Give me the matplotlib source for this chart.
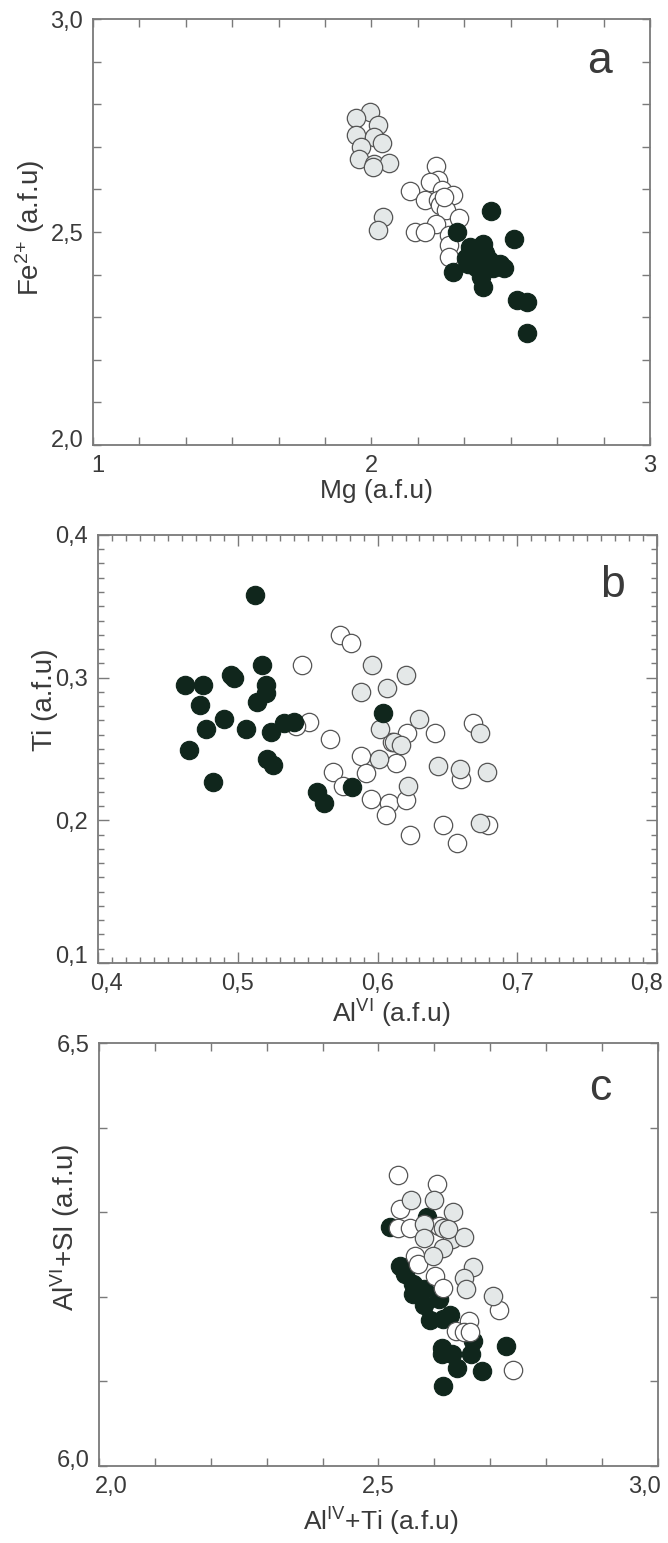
import numpy as np
import matplotlib
matplotlib.use("Agg")
import matplotlib.pyplot as plt
from matplotlib.ticker import MultipleLocator, FixedLocator
from matplotlib.transforms import ScaledTranslation

plt.rcParams['font.family'] = ['Liberation Sans', 'DejaVu Sans']
plt.rcParams['mathtext.default'] = 'regular'

# panel a : Mg vs Fe2+
a_gray_x = [1.995, 1.946, 2.022, 1.946, 2.010, 2.037, 1.964, 1.956, 2.010, 2.063, 2.007, 2.041, 2.022]
a_gray_y = [2.782, 2.767, 2.751, 2.728, 2.724, 2.708, 2.700, 2.671, 2.661, 2.663, 2.653, 2.536, 2.505]
a_white_x = [2.232, 2.240, 2.209, 2.140, 2.255, 2.293, 2.194, 2.240, 2.247, 2.267, 2.232, 2.316,
             2.155, 2.194, 2.278, 2.278, 2.278, 2.262]
a_white_y = [2.655, 2.622, 2.618, 2.597, 2.599, 2.588, 2.575, 2.575, 2.563, 2.552, 2.520, 2.532,
             2.501, 2.501, 2.493, 2.469, 2.442, 2.583]
a_black_x = [2.431, 2.308, 2.512, 2.354, 2.400, 2.408, 2.370, 2.347, 2.392, 2.423, 2.461, 2.477,
             2.293, 2.377, 2.438, 2.400, 2.523, 2.558, 2.558, 2.339, 2.392]
a_black_y = [2.550, 2.501, 2.483, 2.466, 2.473, 2.450, 2.442, 2.426, 2.426, 2.434, 2.426, 2.415,
             2.407, 2.419, 2.415, 2.372, 2.340, 2.336, 2.262, 2.438, 2.395]

# panel b : AlVI vs Ti
b_black_x = [0.512, 0.517, 0.495, 0.497, 0.462, 0.475, 0.520, 0.520, 0.514, 0.473, 0.604, 0.490,
             0.533, 0.540, 0.477, 0.506, 0.524, 0.465, 0.521, 0.525, 0.482, 0.582, 0.557, 0.562]
b_black_y = [0.358, 0.309, 0.302, 0.300, 0.295, 0.295, 0.295, 0.289, 0.283, 0.281, 0.275, 0.271,
             0.268, 0.269, 0.264, 0.264, 0.262, 0.249, 0.243, 0.239, 0.227, 0.223, 0.220, 0.212]
b_white_x = [0.573, 0.581, 0.546, 0.551, 0.542, 0.566, 0.621, 0.641, 0.668, 0.588, 0.613, 0.568,
             0.592, 0.575, 0.595, 0.608, 0.620, 0.606, 0.660, 0.647, 0.679, 0.623, 0.657, 0.610]
b_white_y = [0.330, 0.324, 0.309, 0.269, 0.266, 0.257, 0.261, 0.261, 0.268, 0.245, 0.240, 0.234,
             0.233, 0.224, 0.215, 0.212, 0.214, 0.204, 0.229, 0.197, 0.197, 0.190, 0.184, 0.255]
b_gray_x = [0.596, 0.620, 0.607, 0.588, 0.630, 0.602, 0.612, 0.617, 0.601, 0.643, 0.659, 0.673,
            0.678, 0.622, 0.673]
b_gray_y = [0.309, 0.302, 0.293, 0.290, 0.271, 0.264, 0.255, 0.253, 0.243, 0.238, 0.236, 0.261,
            0.234, 0.224, 0.198]

# panel c : AlIV+Ti vs AlVI+Si
c_black_x = [2.520, 2.587, 2.539, 2.547, 2.562, 2.582, 2.562, 2.582, 2.609, 2.628, 2.593, 2.616,
             2.613, 2.613, 2.632, 2.640, 2.666, 2.686, 2.728, 2.616, 2.670]
c_black_y = [6.283, 6.294, 6.237, 6.227, 6.215, 6.209, 6.203, 6.191, 6.197, 6.179, 6.173, 6.174,
             6.140, 6.132, 6.132, 6.116, 6.132, 6.112, 6.142, 6.095, 6.148]
c_white_x = [2.535, 2.605, 2.539, 2.535, 2.566, 2.570, 2.602, 2.616, 2.716, 2.662, 2.639, 2.653,
             2.664, 2.740, 2.609, 2.556]
c_white_y = [6.344, 6.334, 6.304, 6.282, 6.248, 6.239, 6.225, 6.211, 6.185, 6.172, 6.160, 6.158,
             6.158, 6.114, 6.284, 6.282]
c_gray_x = [2.559, 2.599, 2.634, 2.582, 2.616, 2.582, 2.632, 2.653, 2.616, 2.597, 2.670, 2.653,
            2.656, 2.705, 2.625]
c_gray_y = [6.315, 6.315, 6.300, 6.286, 6.282, 6.270, 6.268, 6.271, 6.258, 6.248, 6.235, 6.222,
            6.209, 6.201, 6.280]

txt = '#3a3a3a'
spine = '#7a7a7a'
black_c = '#10261c'
gray_c = '#e4e8e8'
ms = 175


def pts(ax, x, y, kind):
    if kind == 'black':
        ax.scatter(x, y, s=ms, c=black_c, edgecolors=black_c, linewidths=0.8, zorder=3)
    elif kind == 'white':
        ax.scatter(x, y, s=ms, c='white', edgecolors='#555555', linewidths=0.9, zorder=3)
    else:
        ax.scatter(x, y, s=ms, c=gray_c, edgecolors='#555555', linewidths=0.9, zorder=3)


def style(ax):
    for s in ax.spines.values():
        s.set_color(spine)
        s.set_linewidth(1.3)
    ax.tick_params(which='both', direction='in', top=True, right=True, color=spine,
                   labelcolor=txt, labelsize=17, width=1.0, pad=7)
    ax.tick_params(which='major', length=7)
    ax.tick_params(which='minor', length=5)


def nudge(lab, dx, dy):
    # move a corner tick label a few pixels (as in the original figure)
    lab.set_transform(lab.get_transform() + ScaledTranslation(dx / 100.0, dy / 100.0, fig.dpi_scale_trans))


def labels(ax, xl, yl, xpos, ypos):
    ax.set_xlabel(xl, fontsize=19, color=txt)
    ax.set_ylabel(yl, fontsize=20, color=txt)
    ax.xaxis.label.set_va('center')
    ax.yaxis.label.set_va('center')
    ax.xaxis.set_label_coords(xpos[0], xpos[1])
    ax.yaxis.set_label_coords(ypos[0], ypos[1])


fig = plt.figure(figsize=(6.68, 15.43), dpi=100)

# ---- a
ax1 = fig.add_axes([0.139, 0.7116, 0.834, 0.276])
pts(ax1, a_gray_x, a_gray_y, 'gray')
pts(ax1, a_white_x, a_white_y, 'white')
pts(ax1, a_black_x, a_black_y, 'black')
ax1.set_xlim(1, 3)
ax1.set_ylim(2.0, 3.0)
ax1.set_xticks([1, 2, 3])
ax1.set_xticklabels(['1', '2', '3'])
ax1.xaxis.set_minor_locator(FixedLocator(list(np.arange(1, 3.001, 1 / 6.0))))
ax1.set_yticks([2.0, 2.5, 3.0])
ax1.set_yticklabels(['2,0', '2,5', '3,0'])
ax1.yaxis.set_minor_locator(MultipleLocator(0.1))
style(ax1)
ax1.tick_params(which='both', length=6)
labels(ax1, 'Mg (a.f.u)', 'Fe$^{2{+}}$ (a.f.u)', (0.51, -0.108), (-0.113, 0.51))
ax1.text(0.91, 0.90, 'a', transform=ax1.transAxes, fontsize=32, color=txt,
         ha='center', va='center')
nudge(ax1.get_xticklabels()[0], 5, 0)
nudge(ax1.get_yticklabels()[0], 0, 7)

# ---- b
ax2 = fig.add_axes([0.1467, 0.3759, 0.837, 0.2774])
pts(ax2, b_white_x, b_white_y, 'white')
pts(ax2, b_gray_x, b_gray_y, 'gray')
pts(ax2, b_black_x, b_black_y, 'black')
ax2.set_xlim(0.4, 0.8)
ax2.set_ylim(0.1, 0.4)
ax2.set_xticks([0.4, 0.5, 0.6, 0.7, 0.8])
ax2.set_xticklabels(['0,4', '0,5', '0,6', '0,7', '0,8'])
ax2.xaxis.set_minor_locator(MultipleLocator(0.01))
ax2.set_yticks([0.1, 0.2, 0.3, 0.4])
ax2.set_yticklabels(['0,1', '0,2', '0,3', '0,4'])
ax2.yaxis.set_minor_locator(MultipleLocator(0.01))
style(ax2)
ax2.tick_params(which='major', length=8)
ax2.tick_params(which='minor', length=4)
labels(ax2, 'Al$^{VI}$ (a.f.u)', 'Ti (a.f.u)', (0.525, -0.12), (-0.095, 0.615))
ax2.text(0.92, 0.883, 'b', transform=ax2.transAxes, fontsize=32, color=txt,
         ha='center', va='center')
nudge(ax2.get_xticklabels()[0], 9, 0)
nudge(ax2.get_xticklabels()[-1], -11, 0)
nudge(ax2.get_yticklabels()[0], 0, 8)

# ---- c
ax3 = fig.add_axes([0.148, 0.0499, 0.837, 0.274])
pts(ax3, c_black_x, c_black_y, 'black')
pts(ax3, c_white_x, c_white_y, 'white')
pts(ax3, c_gray_x, c_gray_y, 'gray')
ax3.set_xlim(2.0, 3.0)
ax3.set_ylim(6.0, 6.5)
ax3.set_xticks([2.0, 2.5, 3.0])
ax3.set_xticklabels(['2,0', '2,5', '3,0'])
ax3.xaxis.set_minor_locator(MultipleLocator(0.1))
ax3.set_yticks([6.0, 6.5])
ax3.set_yticklabels(['6,0', '6,5'])
ax3.yaxis.set_minor_locator(MultipleLocator(0.1))
style(ax3)
ax3.tick_params(which='both', length=6)
labels(ax3, 'Al$^{IV}$+Ti (a.f.u)', 'Al$^{VI}$+SI (a.f.u)', (0.504, -0.132), (-0.061, 0.565))
ax3.text(0.896, 0.894, 'c', transform=ax3.transAxes, fontsize=32, color=txt,
         ha='center', va='center')
nudge(ax3.get_xticklabels()[0], 12, 0)
nudge(ax3.get_xticklabels()[-1], -14, 0)
nudge(ax3.get_yticklabels()[0], 0, 8)

fig.savefig('out.png', dpi=100)
